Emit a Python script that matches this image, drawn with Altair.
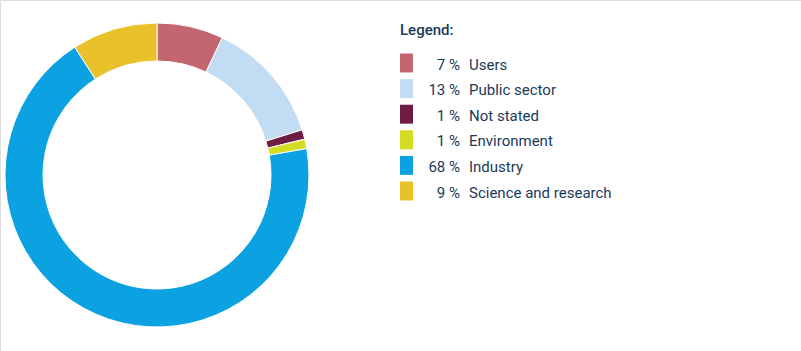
import altair as alt
import pandas as pd

categories = ["Users", "Public sector", "Not stated", "Environment", "Industry", "Science and research"]
values = [7, 13, 1, 1, 68, 9]
percent_labels = ["7 %", "13 %", "1 %", "1 %", "68 %", "9 %"]
colors = ["#c4666f", "#c2dcf4", "#6e1c44", "#d4dc26", "#0ca2e2", "#e9c12a"]

df = pd.DataFrame({
    "category": categories,
    "value": values,
    "pct": percent_labels,
    "order": list(range(len(categories))),
})

color_scale = alt.Scale(domain=categories, range=colors)
TEXT = "#1b3a5a"
FONT = "Roboto"
FS = 15

donut = alt.Chart(df).mark_arc(
    innerRadius=114, outerRadius=152, stroke="white", strokeWidth=1
).encode(
    theta=alt.Theta("value:Q", stack=True),
    order=alt.Order("order:Q"),
    color=alt.Color("category:N", scale=color_scale, legend=None),
    x=alt.value(157),
    y=alt.value(175),
)

yscale = alt.Scale(domain=[0, 5], range=[63, 191])

swatches = alt.Chart(df).transform_calculate(
    y0="datum.order - 0.37", y1="datum.order + 0.37"
).mark_rect().encode(
    x=alt.value(400),
    x2=alt.value(413),
    y=alt.Y("y0:Q", scale=yscale, axis=None),
    y2="y1:Q",
    color=alt.Color("category:N", scale=color_scale, legend=None),
)

pct_text = alt.Chart(df).mark_text(
    align="right", baseline="middle", font=FONT, fontSize=FS, color=TEXT, dy=1.5
).encode(
    x=alt.value(460),
    y=alt.Y("order:Q", scale=yscale, axis=None),
    text="pct:N",
)

label_text = alt.Chart(df).mark_text(
    align="left", baseline="middle", font=FONT, fontSize=FS, color=TEXT, dy=1.5
).encode(
    x=alt.value(469),
    y=alt.Y("order:Q", scale=yscale, axis=None),
    text="category:N",
)

title = alt.Chart(pd.DataFrame({"t": ["Legend:"]})).mark_text(
    align="left", baseline="middle", font=FONT, fontSize=FS, fontWeight=500, color=TEXT
).encode(
    x=alt.value(400),
    y=alt.value(30),
    text="t:N",
)

chart = alt.layer(donut, swatches, pct_text, label_text, title).properties(
    width=801, height=351, padding=0, autosize=alt.AutoSizeParams(type="none")
).configure_view(stroke=None).configure(background="white")

chart.save("out.html", embed_options={"renderer": "svg", "actions": False})
